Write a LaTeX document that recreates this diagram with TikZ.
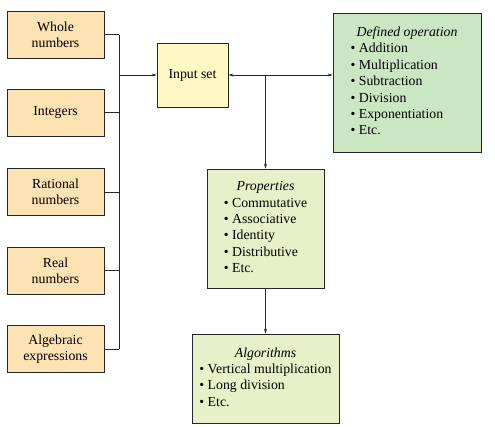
\documentclass[tikz,border=0pt]{standalone}
\usepackage{fontspec}
\setmainfont{Liberation Serif}
\usetikzlibrary{arrows.meta}
\definecolor{peach}{HTML}{FDE2B3}
\definecolor{inyellow}{HTML}{FFF8C2}
\definecolor{opgreen}{HTML}{CBE6C2}
\definecolor{palegreen}{HTML}{E7F0C8}
\tikzset{
  box/.style={draw=black!85, line width=0.8pt, inner sep=0pt, align=center,
    font=\fontsize{13.8}{16.4}\selectfont},
  leftbox/.style={box, fill=peach, minimum width=97pt, minimum height=47pt},
  conn/.style={line width=0.7pt, black!85},
  arr/.style={conn, -{Stealth[length=5pt,width=3pt]}}
}
\begin{document}
\begin{tikzpicture}[x=1pt,y=-1pt]
\useasboundingbox (0,0) rectangle (495,426);
\node[leftbox] (whole) at (55.5,34.5) {Whole\\numbers};
\node[leftbox] (int) at (55.5,112.5) {Integers};
\node[leftbox] (rat) at (55.5,192) {Rational\\numbers};
\node[leftbox] (real) at (55.5,270.5) {Real\\numbers};
\node[leftbox] (alg) at (55.5,349) {Algebraic\\expressions};
\node[box, fill=inyellow, minimum width=71pt, minimum height=64pt] (input) at (192.5,75) {Input set};
\node[box, fill=opgreen, minimum width=148pt, minimum height=139pt] (def) at (407,82.5)
 {\begin{tabular}{@{}l@{}}\multicolumn{1}{c}{\textit{Defined operation}}\\
  \textbullet\ Addition\\ \textbullet\ Multiplication\\ \textbullet\ Subtraction\\
  \textbullet\ Division\\ \textbullet\ Exponentiation\\ \textbullet\ Etc.\end{tabular}};
\node[box, fill=palegreen, minimum width=117pt, minimum height=119pt] (prop) at (265.5,228.5)
 {\begin{tabular}{@{}l@{}}\multicolumn{1}{c}{\textit{Properties}}\\
  \textbullet\ Commutative\\ \textbullet\ Associative\\ \textbullet\ Identity\\
  \textbullet\ Distributive\\ \textbullet\ Etc.\end{tabular}};
\node[box, fill=palegreen, minimum width=147pt, minimum height=89pt] (algo) at (265.5,378.5)
 {\begin{tabular}{@{}l@{}}\multicolumn{1}{c}{\textit{Algorithms}}\\
  \textbullet\ Vertical multiplication\\ \textbullet\ Long division\\ \textbullet\ Etc.\end{tabular}};
\coordinate (bt) at (119,34.5);
\coordinate (bb) at (119,349);
\foreach \n in {whole,int,rat,real,alg} \draw[conn] (\n.east) -- (\n.east -| bt);
\draw[conn] (bt) -- (bb);
\draw[arr] (bt |- input.west) -- (input.west);
\coordinate (j) at (prop.north |- input.east);
\draw[arr] (j) -- (input.east);
\draw[arr] (j) -- (j -| def.west);
\draw[arr] (j) -- (prop.north);
\draw[arr] (prop.south) -- (algo.north);
\end{tikzpicture}
\end{document}
